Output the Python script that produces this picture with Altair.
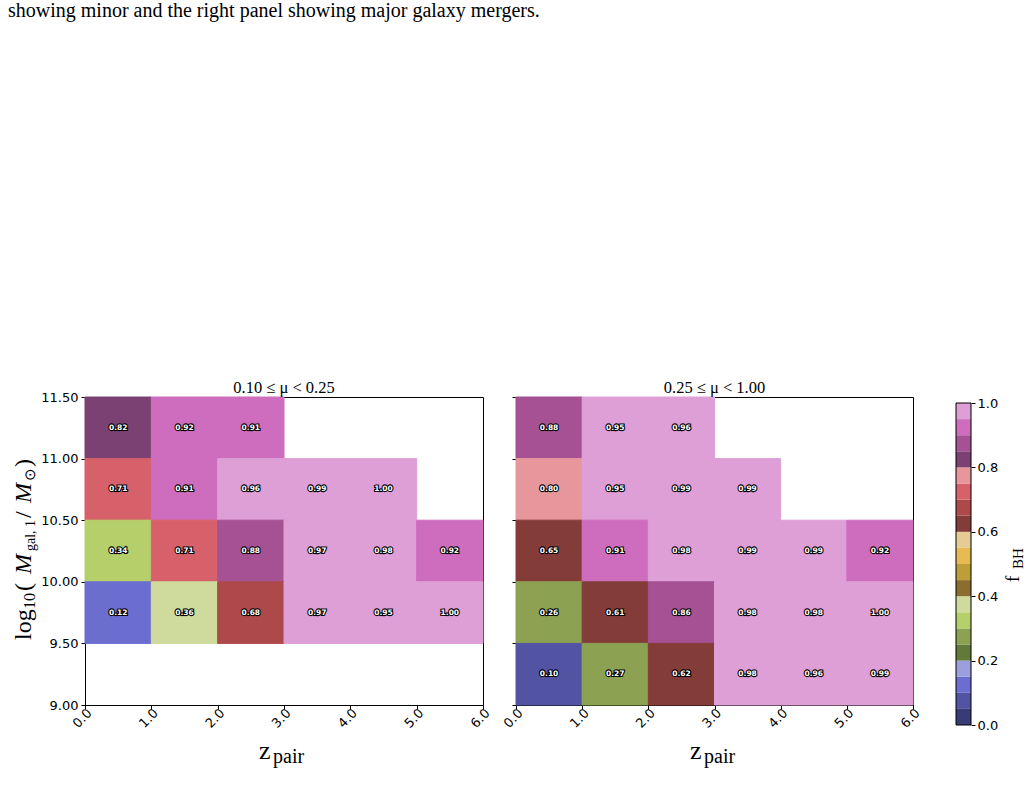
import altair as alt
import pandas as pd

# ---- colormap (tab20b, 20 discrete levels over 0..1) ----
cmap = ["#393b79", "#5254a3", "#6b6ecf", "#9c9ede", "#637939", "#8ca252", "#b5cf6b", "#cedb9c",
        "#8c6d31", "#bd9e39", "#e7ba52", "#e7cb94", "#843c39", "#ad494a", "#d6616b", "#e7969c",
        "#7b4173", "#a55194", "#ce6dbd", "#de9ed6"]
cbar_lo = [0.00, 0.05, 0.10, 0.15, 0.20, 0.25, 0.30, 0.35, 0.40, 0.45,
           0.50, 0.55, 0.60, 0.65, 0.70, 0.75, 0.80, 0.85, 0.90, 0.95]
cbar_ticks = [0.0, 0.2, 0.4, 0.6, 0.8, 1.0]

# ---- minor mergers (0.10 <= mu < 0.25): lower bin edges of z_pair and log10 mass ----
minor_z = [0, 1, 2,
           0, 1, 2, 3, 4,
           0, 1, 2, 3, 4, 5,
           0, 1, 2, 3, 4, 5]
minor_m = [11.0] * 3 + [10.5] * 5 + [10.0] * 6 + [9.5] * 6
minor_f = [0.82, 0.92, 0.91,
           0.71, 0.91, 0.96, 0.99, 1.00,
           0.34, 0.71, 0.88, 0.97, 0.98, 0.92,
           0.12, 0.36, 0.68, 0.97, 0.95, 1.00]

# ---- major mergers (0.25 <= mu < 1.00) ----
major_z = [0, 1, 2,
           0, 1, 2, 3,
           0, 1, 2, 3, 4, 5,
           0, 1, 2, 3, 4, 5,
           0, 1, 2, 3, 4, 5]
major_m = [11.0] * 3 + [10.5] * 4 + [10.0] * 6 + [9.5] * 6 + [9.0] * 6
major_f = [0.88, 0.95, 0.96,
           0.798, 0.95, 0.99, 0.99,
           0.649, 0.91, 0.98, 0.99, 0.99, 0.92,
           0.26, 0.61, 0.86, 0.98, 0.98, 1.00,
           0.099, 0.27, 0.62, 0.98, 0.96, 0.99]

x_ticks = [0, 1, 2, 3, 4, 5, 6]
y_ticks = [9.0, 9.5, 10.0, 10.5, 11.0, 11.5]

caption = "showing minor and the right panel showing major galaxy mergers."
title_minor = "0.10 \u2264 \u03bc < 0.25"
title_major = "0.25 \u2264 \u03bc < 1.00"

SERIF = "Liberation Serif"
SANS = "DejaVu Sans"
W_L, W_R, H = 398, 397, 308

color_scale = alt.Scale(type="quantize", domain=[0, 1], range=cmap)


def piece(text, x, y, size, angle=0, style="normal", align="left", baseline="alphabetic"):
    kw = dict(text=text, fontSize=size, font=SERIF, fontStyle=style, align=align,
              baseline=baseline, color="black")
    if angle:
        kw["angle"] = angle
    return alt.Chart(pd.DataFrame({"k": [0]})).mark_text(**kw).encode(
        x=alt.value(x), y=alt.value(y))


def panel(z, m, f, title, width, show_y):
    df = pd.DataFrame({"z": z, "m": m, "f": f})
    base = alt.Chart(df).transform_calculate(
        z2="datum.z + 1", m2="datum.m + 0.5", zc="datum.z + 0.5", mc="datum.m + 0.25")
    xs = alt.Scale(domain=[0, 6], nice=False, zero=False)
    ys = alt.Scale(domain=[9.0, 11.5], nice=False, zero=False)
    x_axis = alt.Axis(values=x_ticks, format=".1f", labelAngle=-45, labelAlign="center",
                      labelBaseline="middle", labelPadding=9, labelOffset=-3, tickSize=4,
                      title=None, grid=False)
    y_axis = alt.Axis(values=y_ticks, format=".2f", labels=show_y, title=None, tickSize=4,
                      labelPadding=3, grid=False)
    rects = base.mark_rect(strokeWidth=1, opacity=1).encode(
        x=alt.X("z:Q", scale=xs, axis=x_axis),
        x2="z2:Q",
        y=alt.Y("m:Q", scale=ys, axis=y_axis),
        y2="m2:Q",
        color=alt.Color("f:Q", scale=color_scale, legend=None),
        stroke=alt.Color("f:Q", scale=color_scale, legend=None),
    )
    enc = dict(x=alt.X("zc:Q", scale=xs, axis=x_axis),
               y=alt.Y("mc:Q", scale=ys, axis=y_axis),
               text=alt.Text("f:Q", format=".2f"))
    outline = base.mark_text(font=SANS, fontSize=7.5, fontWeight="bold", color="black",
                             stroke="black", strokeWidth=2.2).encode(**enc)
    fill = base.mark_text(font=SANS, fontSize=7.5, fontWeight="bold", color="white").encode(**enc)

    layers = [rects, outline, fill,
              piece(title, width / 2, -4, 16.5, align="center"),
              piece("z", 174, 362, 26),
              piece("pair", 188, 366, 20)]
    if show_y:
        layers += [
            piece("log", -54, 243, 24, angle=270),
            piece("10", -50, 212, 16, angle=270),
            piece("(", -54, 194, 24, angle=270),
            piece("M", -54, 177, 24, angle=270, style="italic"),
            piece("gal, 1", -50, 154, 14, angle=270),
            piece("/", -54, 121, 24, angle=270),
            piece("M", -54, 106, 24, angle=270, style="italic"),
            piece("\u2299", -50, 84, 15, angle=270),
            piece(")", -54, 70, 24, angle=270),
        ]
    return alt.layer(*layers).properties(width=width, height=H)


left = panel(minor_z, minor_m, minor_f, title_minor, W_L, True)
right = panel(major_z, major_m, major_f, title_major, W_R, False)

# ---- colour bar (also carries the caption line above the figure) ----
CB_H = 328
cb_scale = alt.Scale(domain=[0, CB_H / 322], nice=False, zero=False)
cbase = alt.Chart(pd.DataFrame({"lo": cbar_lo})).transform_calculate(
    hi="datum.lo + 0.05", mid="datum.lo + 0.025")
cb_axis = alt.Axis(orient="right", values=cbar_ticks, format=".1f", title=None, domain=False,
                   tickSize=4, labelPadding=2, grid=False)
cbars = cbase.mark_rect().encode(
    x=alt.value(10), x2=alt.value(25),
    y=alt.Y("lo:Q", scale=cb_scale, axis=cb_axis),
    y2="hi:Q",
    color=alt.Color("mid:Q", scale=color_scale, legend=None),
)
cborder = alt.Chart(pd.DataFrame({"k": [0]})).mark_rect(
    fillOpacity=0, stroke="black", strokeWidth=1).encode(
    x=alt.value(10), x2=alt.value(25),
    y=alt.Y(datum=0, scale=cb_scale, axis=cb_axis), y2=alt.Y2(datum=1))
cbar = alt.layer(
    cbars, cborder,
    piece("f", 73, 185, 19, angle=270),
    piece("BH", 77, 172, 15, angle=270),
    piece(caption, -938, -380, 20),
).properties(width=25, height=CB_H, view=alt.ViewBackground(stroke="transparent"))

chart = alt.hconcat(left, right, cbar, spacing=33, bounds="flush").resolve_scale(
    x="independent", y="independent"
).properties(
    padding={"left": 7, "top": 0, "right": 0, "bottom": 0},
    background="white",
).configure_view(stroke="black", strokeWidth=1).configure_axis(
    labelFont=SANS, labelFontSize=13, labelColor="black", tickColor="black",
    domainColor="black", tickWidth=1, domainWidth=1,
)

chart.save("out.html", embed_options={"renderer": "svg", "actions": False})
